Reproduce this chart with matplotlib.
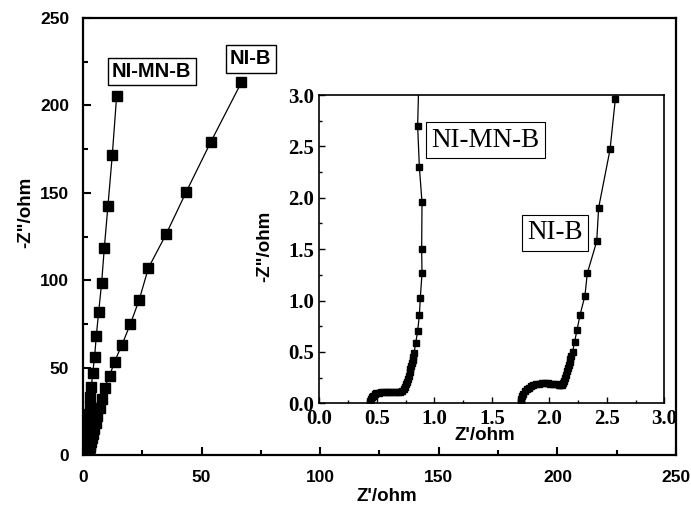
#!/usr/bin/env python3
"""
Diagramme de Nyquist (EIS) des catalyseurs NI-B et NI-MN-B
avec un encart agrandi sur la zone haute frequence.
"""

import matplotlib
matplotlib.use('Agg')
import matplotlib.pyplot as plt
from matplotlib.ticker import MultipleLocator, FormatStrFormatter

# Donnees (Z' et -Z'' en ohm), haute -> basse frequence
ni_b_z_re = [1.75, 1.752, 1.757, 1.765, 1.775, 1.788, 1.803, 1.82, 1.84, 1.862,
             1.885, 1.91, 1.935, 1.96, 1.985, 2.01, 2.035, 2.06, 2.08, 2.097,
             2.11, 2.12, 2.128, 2.136, 2.144, 2.152, 2.16, 2.168, 2.176, 2.184,
             2.192, 2.203, 2.220, 2.241, 2.267, 2.310, 2.330, 2.412, 2.429,
             2.528, 2.574, 2.8, 3.05, 3.35, 3.7, 4.15, 4.7, 5.35, 6.1, 7.0,
             8.0, 9.1, 11.2, 13.3, 16.4, 20.0, 23.7, 27.6, 35.0, 43.4, 53.8, 66.8]
ni_b_z_im = [0.0, 0.02, 0.045, 0.07, 0.095, 0.115, 0.135, 0.152, 0.166, 0.177,
             0.185, 0.19, 0.193, 0.194, 0.194, 0.192, 0.189, 0.184, 0.178, 0.174,
             0.178, 0.195, 0.22, 0.25, 0.28, 0.31, 0.34, 0.37, 0.40, 0.43,
             0.46, 0.503, 0.600, 0.714, 0.860, 1.048, 1.265, 1.576, 1.904,
             2.47, 2.96, 4.4, 5.8, 7.5, 9.5, 12.0, 15.0, 18.5, 22.5, 27.0,
             32.0, 38.5, 45.2, 53.4, 63.0, 75.0, 88.8, 107.1, 126.2, 150.2, 178.9, 213.2]

ni_mn_b_z_re = [0.44, 0.442, 0.447, 0.455, 0.466, 0.48, 0.497, 0.516, 0.537, 0.56,
                0.585, 0.61, 0.635, 0.66, 0.685, 0.705, 0.722, 0.736, 0.747, 0.756,
                0.764, 0.771, 0.778, 0.785, 0.792, 0.799, 0.806, 0.812, 0.818, 0.823,
                0.838, 0.855, 0.870, 0.878, 0.893, 0.890, 0.893, 0.870, 0.855,
                0.89, 1.0, 1.12, 1.27, 1.43, 1.6, 1.85, 2.1, 2.4, 2.75, 3.1,
                3.5, 4.1, 4.9, 5.6, 6.6, 7.86, 9.0, 10.5, 12.35, 14.2]
ni_mn_b_z_im = [0.0, 0.02, 0.04, 0.058, 0.074, 0.087, 0.097, 0.104, 0.108, 0.11,
                0.111, 0.111, 0.11, 0.11, 0.111, 0.114, 0.122, 0.138, 0.16, 0.185,
                0.21, 0.24, 0.27, 0.30, 0.33, 0.36, 0.39, 0.42, 0.455, 0.487,
                0.584, 0.704, 0.856, 1.022, 1.265, 1.50, 1.956, 2.30, 2.70,
                4.2, 5.4, 6.8, 8.5, 10.5, 13.0, 16.0, 19.5, 23.5, 28.0, 33.0,
                38.9, 46.8, 56.3, 68.0, 81.7, 98.5, 118.7, 142.2, 171.6, 205.6]

SANS = 'Liberation Sans'
SERIF = 'Liberation Serif'

fig = plt.figure(figsize=(6.91, 5.12), dpi=100)

# Graphique principal
ax = fig.add_axes([0.1201, 0.1113, 0.8582, 0.8535])
for zr, zi in [(ni_b_z_re, ni_b_z_im), (ni_mn_b_z_re, ni_mn_b_z_im)]:
    ax.plot(zr, zi, color='black', linewidth=0.9, marker='s', markersize=7,
            markerfacecolor='black', markeredgecolor='black')
ax.set_xlim(0, 250)
ax.set_ylim(0, 250)
ax.xaxis.set_major_locator(MultipleLocator(50))
ax.xaxis.set_minor_locator(MultipleLocator(25))
ax.yaxis.set_major_locator(MultipleLocator(50))
ax.yaxis.set_minor_locator(MultipleLocator(25))
ax.tick_params(which='both', direction='in', top=False, right=False, width=1.5)
ax.tick_params(which='major', length=6)
ax.tick_params(which='minor', length=3.5)
ax.tick_params(axis='x', pad=11)
ax.tick_params(axis='y', pad=10)
for lab in ax.get_xticklabels() + ax.get_yticklabels():
    lab.set_fontfamily(SANS)
    lab.set_fontweight('bold')
    lab.set_fontsize(12.5)
for sp in ax.spines.values():
    sp.set_linewidth(1.6)
ax.set_xlabel("Z'/ohm", fontfamily=SANS, fontweight='bold', fontsize=13.5)
ax.set_ylabel('-Z"/ohm', fontfamily=SANS, fontweight='bold', fontsize=13.5)
ax.xaxis.set_label_coords(0.512, -0.076)
ax.yaxis.set_label_coords(-0.083, 0.556)

box = dict(boxstyle='square,pad=0.22', facecolor='white', edgecolor='black', linewidth=1.0)
ax.text(29.0, 219.4, 'NI-MN-B', fontfamily=SANS, fontweight='bold', fontsize=14.5,
        ha='center', va='center', bbox=box)
ax.text(70.7, 226.8, 'NI-B', fontfamily=SANS, fontweight='bold', fontsize=14.5,
        ha='center', va='center', bbox=box)

# Encart : zone haute frequence
ins = fig.add_axes([0.4621, 0.2123, 0.4993, 0.6021])
for zr, zi in [(ni_b_z_re, ni_b_z_im), (ni_mn_b_z_re, ni_mn_b_z_im)]:
    ins.plot(zr, zi, color='black', linewidth=0.9, marker='s', markersize=4,
             markerfacecolor='black', markeredgecolor='black')
ins.set_xlim(0, 3.0)
ins.set_ylim(0, 3.0)
ins.xaxis.set_major_locator(MultipleLocator(0.5))
ins.xaxis.set_minor_locator(MultipleLocator(0.25))
ins.yaxis.set_major_locator(MultipleLocator(0.5))
ins.yaxis.set_minor_locator(MultipleLocator(0.25))
ins.xaxis.set_major_formatter(FormatStrFormatter('%.1f'))
ins.yaxis.set_major_formatter(FormatStrFormatter('%.1f'))
ins.tick_params(which='both', direction='in', top=False, right=False, width=1.0)
ins.tick_params(which='major', length=4)
ins.tick_params(which='minor', length=2.5)
ins.tick_params(axis='x', pad=4)
ins.tick_params(axis='y', pad=4)
for lab in ins.get_xticklabels() + ins.get_yticklabels():
    lab.set_fontfamily(SERIF)
    lab.set_fontweight('bold')
    lab.set_fontsize(15)
for sp in ins.spines.values():
    sp.set_linewidth(1.2)
ins.set_xlabel("Z'/ohm", fontfamily=SANS, fontweight='bold', fontsize=13.5)
ins.set_ylabel('-Z"/ohm', fontfamily=SANS, fontweight='bold', fontsize=13.5)
ins.xaxis.set_label_coords(0.48, -0.077)
ins.yaxis.set_label_coords(-0.133, 0.51)

box2 = dict(boxstyle='square,pad=0.2', facecolor='white', edgecolor='black', linewidth=0.8)
ins.text(1.445, 2.56, 'NI-MN-B', fontfamily=SERIF, fontsize=19.5,
         ha='center', va='center', bbox=box2)
ins.text(2.05, 1.66, 'NI-B', fontfamily=SERIF, fontsize=19.5,
         ha='center', va='center', bbox=box2)

fig.savefig('out.png', dpi=100)
